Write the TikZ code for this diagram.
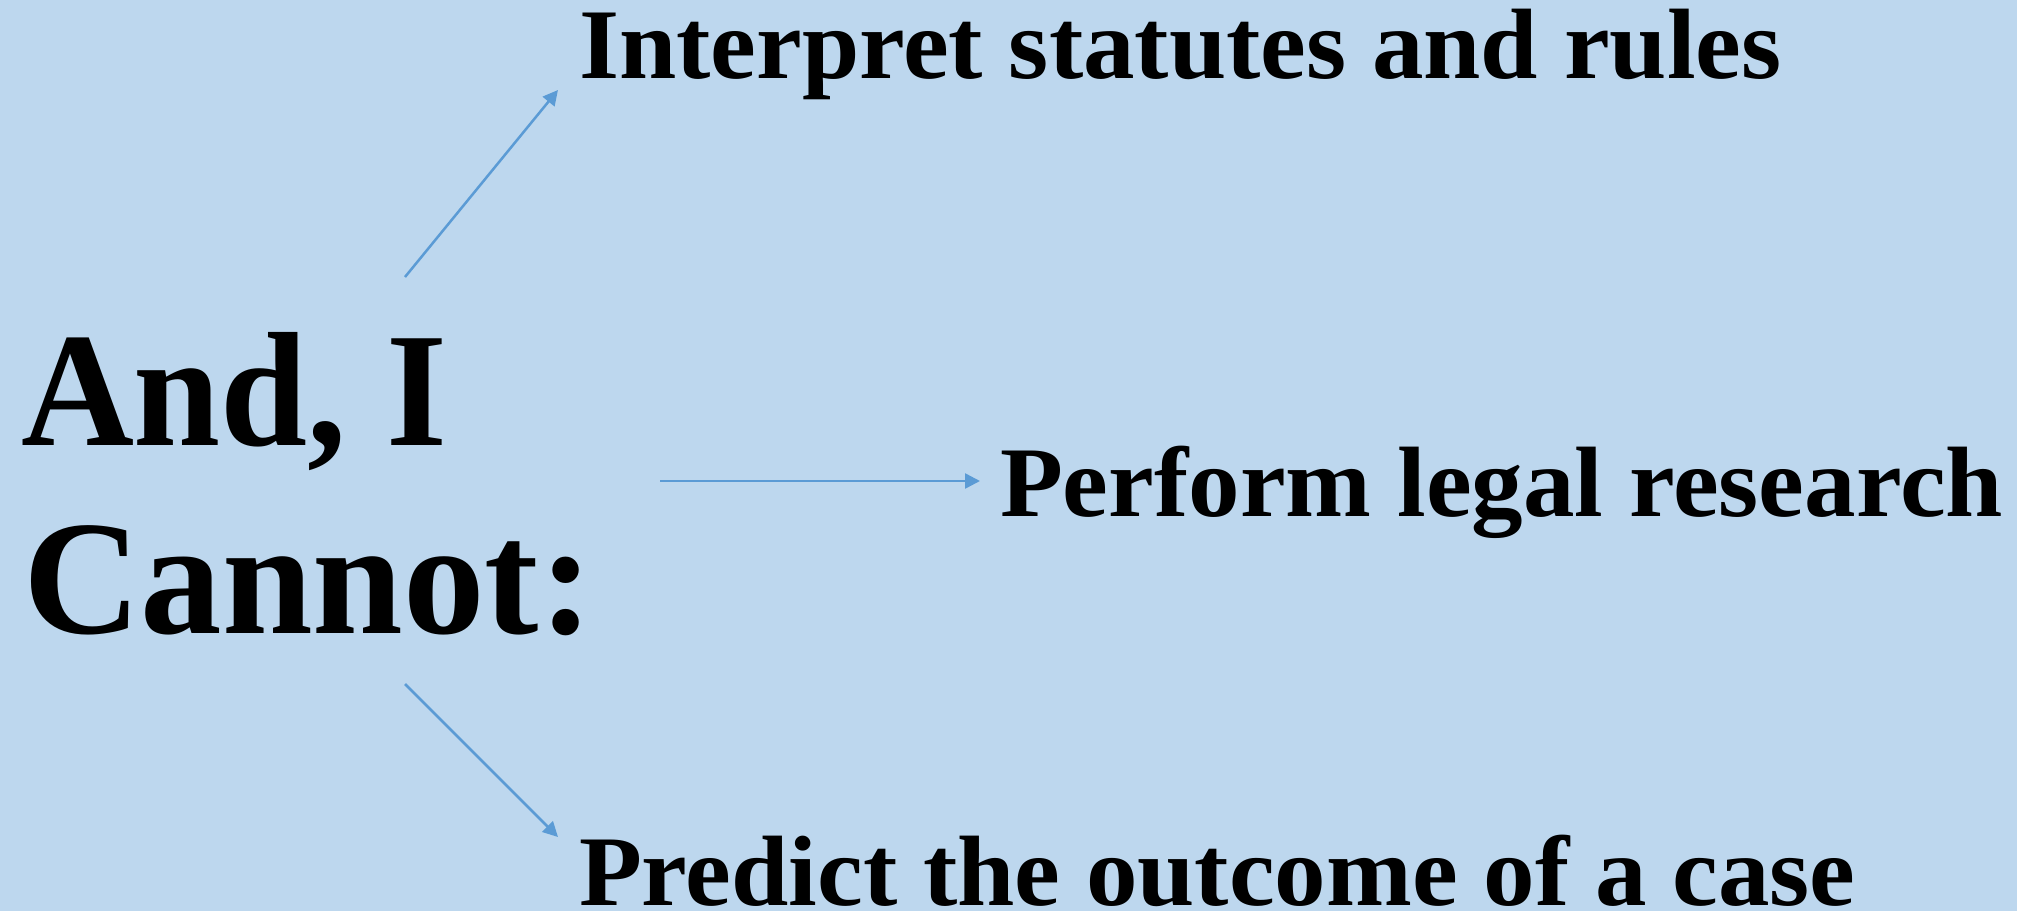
\documentclass[tikz,border=0pt]{standalone}
\usepackage{fontspec}
\usetikzlibrary{arrows.meta}
\newfontfamily\labfont[FakeStretch=1.03]{Liberation Serif Bold}
\newfontfamily\bigfont[FakeStretch=0.96]{Liberation Serif Bold}
\newfontfamily\bigfontwide[FakeStretch=1.0]{Liberation Serif Bold}
\definecolor{bgblue}{HTML}{BDD7EE}
\definecolor{arrowblue}{HTML}{5B9BD5}
\tikzset{
  label text/.style={anchor=base west, inner sep=0pt, outer sep=0pt, text=black,
    font=\labfont\fontsize{100bp}{110bp}\selectfont},
  big text/.style={anchor=base west, inner sep=0pt, outer sep=0pt, text=black,
    font=\bigfont\fontsize{163bp}{190bp}\selectfont},
  big wide text/.style={big text, font=\bigfontwide\fontsize{163bp}{190bp}\selectfont},
  connector/.style={draw=arrowblue, line width=2.5bp,
    -{Triangle[length=15bp,width=15bp]}}
}
\begin{document}
\begin{tikzpicture}[x=1bp,y=-1bp]
  \useasboundingbox (0,0) rectangle (2017,911);
  \fill[bgblue] (0,0) rectangle (2017,911);
  \node[big text] (and) at (21,445) {And, I};
  \node[big wide text] (cannot) at (23,633) {Cannot:};
  \node[label text] (interp) at (579,78) {Interpret statutes and rules};
  \node[label text] (perform) at (1000,516) {Perform legal research};
  \node[label text] (predict) at (579,905) {Predict the outcome of a case};
  \coordinate (s1) at (405,277);
  \coordinate (e1) at (558,90);
  \coordinate (s2) at (660,481);
  \coordinate (e2) at (980,481);
  \coordinate (s3) at (405,684);
  \coordinate (e3) at (558,837);
  \draw[connector] (s1) -- (e1);
  \draw[connector] (s2) -- (e2);
  \draw[connector] (s3) -- (e3);
\end{tikzpicture}
\end{document}
